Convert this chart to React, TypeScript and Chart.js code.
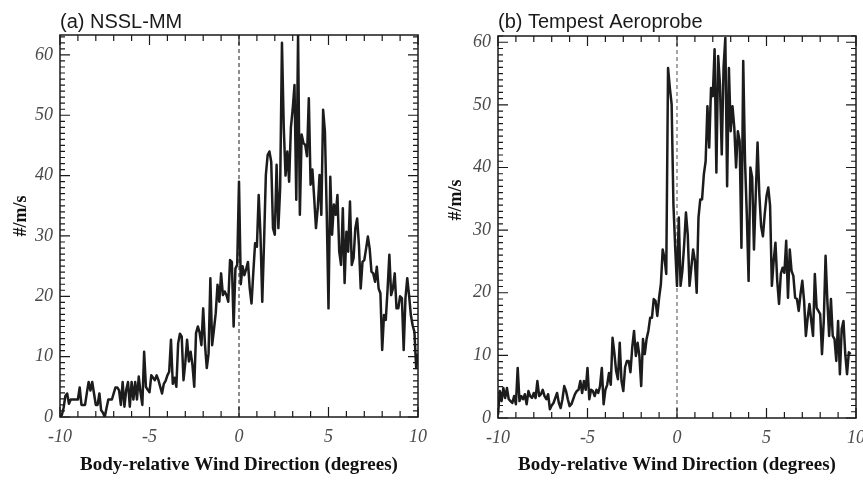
import React, { useEffect, useRef } from 'react';
import { Chart, registerables } from 'chart.js';

Chart.register(...registerables);

// x grid: bins of 0.1 degree from -10 to 10
const X_MIN = -10;
const X_STEP = 0.1;
const X_TICKS = [-10, -5, 0, 5, 10];
const Y_TICKS = [0, 10, 20, 30, 40, 50, 60];

// (a) NSSL-MM, #/m/s per 0.1 degree bin from -10.0 to 10.0
const NSSL_VALUES = [
  0, 0.3, 1.5, 3.5, 3.9, 2.2, 2.9, 2.9, 2.9, 2.9,
  2.9, 4.9, 2.0, 2.0, 2.0, 4.0, 5.8, 4.4, 5.8, 3.9,
  2.0, 2.0, 3.9, 1.1, 0.7, 0, 1.5, 2.9, 2.9, 2.9,
  3.9, 4.9, 4.9, 4.4, 2.0, 5.8, 1.7, 4.5, 5.8, 1.7,
  5.8, 2.9, 5.8, 2.9, 6.7, 4.0, 2.0, 10.8, 5.0, 4.5,
  4.1, 6.9, 6.5, 6.1, 6.9, 6.1, 5.0, 3.9, 5.5, 6.0,
  6.9, 7.5, 12.8, 5.5, 6.5, 5.0, 12.2, 13.8, 13.3, 6.1,
  9.0, 12.8, 9.2, 10.8, 8.6, 5.0, 13.9, 15.0, 14.0, 11.9,
  18.0, 12.0, 8.1, 10.5, 23.0, 11.9, 14.5, 17.2, 21.9, 19.1,
  23.8, 20.2, 20.8, 20.2, 19.1, 26.0, 25.7, 15.0, 24.6, 25.2,
  39.0, 22.0, 25.0, 23.5, 24.5, 25.7, 21.3, 18.8, 24.0, 28.8,
  28.2, 36.8, 30.2, 19.1, 29.0, 40.1, 43.4, 44.0, 42.3, 31.3,
  30.2, 41.8, 31.3, 38.0, 62.0, 48.0, 40.0, 44.0, 39.0, 48.0,
  51.0, 55.0, 36.0, 63.3, 33.5, 46.8, 45.4, 45.1, 43.2, 52.8,
  38.5, 41.0, 36.3, 31.3, 34.6, 40.1, 33.5, 50.9, 47.3, 34.0,
  18.0, 39.8, 30.2, 35.2, 33.5, 36.8, 27.4, 25.2, 34.6, 22.2,
  30.7, 27.4, 35.7, 25.2, 26.3, 31.3, 32.9, 28.5, 21.3, 25.7,
  26.0, 27.9, 29.9, 27.9, 24.1, 23.8, 22.4, 24.9, 21.3, 20.5,
  11.1, 16.9, 16.1, 21.1, 26.9, 20.2, 21.3, 23.8, 18.0, 18.0,
  20.0, 19.7, 11.1, 19.7, 23.0, 20.2, 16.9, 15.2, 14.1, 8.1,
  10.5,
];

// (b) Tempest Aeroprobe, #/m/s per 0.1 degree bin from -10.0 to 9.7
const TEMPEST_VALUES = [
  0.5, 4.3, 2.7, 4.8, 3.2, 4.8, 3.0, 2.7, 2.4, 3.5,
  2.2, 8.0, 2.7, 3.5, 3.0, 3.8, 2.2, 4.3, 3.5, 3.2,
  4.0, 3.2, 5.9, 3.5, 3.8, 4.5, 3.5, 3.0, 3.8, 1.4,
  2.0, 2.4, 3.2, 4.0, 2.4, 1.6, 3.0, 5.1, 4.3, 3.0,
  1.9, 2.2, 3.0, 3.8, 4.3, 4.5, 5.9, 4.0, 5.9, 4.5,
  8.0, 3.0, 4.5, 4.3, 3.5, 4.5, 4.0, 5.1, 8.0, 2.2,
  4.5, 5.3, 7.2, 5.3, 12.8, 10.4, 7.5, 6.2, 12.0, 5.9,
  4.3, 8.1, 9.1, 9.1, 7.3, 11.3, 13.9, 9.9, 12.0, 9.9,
  5.1, 12.6, 10.2, 12.6, 13.9, 16.0, 16.0, 19.0, 18.7, 16.3,
  19.2, 21.4, 26.9, 25.6, 23.0, 55.9, 52.7, 50.1, 34.1, 27.2,
  21.1, 32.0, 21.1, 23.5, 27.7, 32.8, 29.3, 21.1, 24.0, 26.9,
  25.1, 20.0, 32.0, 34.9, 34.9, 38.9, 41.0, 49.8, 43.2, 52.7,
  51.4, 58.9, 39.2, 57.8, 53.3, 42.1, 55.9, 60.7, 37.0, 55.9,
  45.8, 49.8, 46.4, 40.0, 45.8, 44.2, 27.2, 57.0, 41.0, 32.5,
  21.9, 40.0, 38.4, 26.9, 35.7, 44.0, 35.7, 30.6, 29.0, 32.5,
  35.4, 36.8, 33.9, 21.1, 25.1, 28.0, 21.9, 18.2, 23.0, 24.0,
  23.2, 28.3, 19.2, 26.9, 23.5, 22.7, 19.2, 19.0, 17.1, 19.8,
  21.9, 18.7, 13.1, 16.0, 18.2, 15.5, 13.1, 23.0, 17.6, 17.1,
  16.6, 10.2, 15.5, 25.9, 18.7, 13.1, 19.0, 13.1, 12.6, 9.1,
  15.5, 7.0, 14.2, 15.5, 10.2, 7.0, 10.5, 10.2,
];

const PANELS = [
  {
    title: '(a) NSSL-MM',
    values: NSSL_VALUES,
    yMax: 63.3,
    dashColor: '#1a1a1a',
    dashWidth: 1,
    left: 0,
    width: 440,
    padTop: 35,
    padRight: 22,
    yWidth: 60,
    xHeight: 63,
    yTitleX: 21,
    yTitleY: 216,
  },
  {
    title: '(b) Tempest Aeroprobe',
    values: TEMPEST_VALUES,
    yMax: 61,
    dashColor: '#808080',
    dashWidth: 1.4,
    left: 440,
    width: 440,
    padTop: 36,
    padRight: 24,
    yWidth: 58,
    xHeight: 62,
    yTitleX: 16,
    yTitleY: 200,
  },
];

const SERIF = '"Liberation Serif", "Times New Roman", serif';
const SANS = '"Liberation Sans", Arial, sans-serif';

function toPoints(vals: number[]) {
  return vals.map((v, i) => ({ x: Math.round((X_MIN + i * X_STEP) * 10) / 10, y: v }));
}

function makePlugin(p: any) {
  return {
    id: 'frameDecor',
    beforeDatasetsDraw(chart: any) {
      const { ctx, chartArea } = chart;
      const xs = chart.scales.x;
      const x0 = xs.getPixelForValue(0);
      ctx.save();
      ctx.strokeStyle = p.dashColor;
      ctx.lineWidth = p.dashWidth;
      ctx.setLineDash([4, 3]);
      ctx.beginPath();
      ctx.moveTo(x0, chartArea.top);
      ctx.lineTo(x0, chartArea.bottom);
      ctx.stroke();
      ctx.restore();
    },
    afterDraw(chart: any) {
      const { ctx, chartArea } = chart;
      const { left, right, top, bottom } = chartArea;
      const xs = chart.scales.x;
      const ys = chart.scales.y;
      ctx.save();
      ctx.strokeStyle = '#1a1a1a';
      ctx.lineWidth = 1.5;
      ctx.setLineDash([]);
      ctx.strokeRect(left, top, right - left, bottom - top);
      ctx.lineWidth = 1.2;
      ctx.beginPath();
      for (let v = -10; v <= 10; v++) {
        const px = xs.getPixelForValue(v);
        const len = v % 5 === 0 ? 10 : 6;
        ctx.moveTo(px, bottom);
        ctx.lineTo(px, bottom - len);
        ctx.moveTo(px, top);
        ctx.lineTo(px, top + len);
      }
      for (let v = 0; v <= Math.floor(p.yMax); v++) {
        const py = ys.getPixelForValue(v);
        const len = v % 10 === 0 ? 10 : 5;
        ctx.moveTo(left, py);
        ctx.lineTo(left + len, py);
        ctx.moveTo(right, py);
        ctx.lineTo(right - len, py);
      }
      ctx.stroke();

      // panel title
      ctx.fillStyle = '#1a1a1a';
      ctx.font = `20px ${SANS}`;
      ctx.textAlign = 'left';
      ctx.textBaseline = 'alphabetic';
      ctx.fillText(p.title, left, 28);

      // y axis title
      ctx.translate(p.yTitleX, p.yTitleY);
      ctx.rotate(-Math.PI / 2);
      ctx.font = `bold 18px ${SERIF}`;
      ctx.textAlign = 'center';
      ctx.textBaseline = 'middle';
      ctx.fillStyle = '#111';
      ctx.fillText('#/m/s', 0, 0);
      ctx.restore();
    },
  };
}

function makeConfig(p: any): any {
  const tickFont = { family: SERIF, size: 18, style: 'italic' as const };
  return {
    type: 'line',
    data: {
      datasets: [
        {
          data: toPoints(p.values),
          borderColor: '#1c1c1c',
          borderWidth: 2.5,
          pointRadius: 0,
          tension: 0,
          borderJoinStyle: 'round',
          fill: false,
        },
      ],
    },
    options: {
      responsive: false,
      animation: false,
      devicePixelRatio: 1,
      layout: { padding: { left: 0, top: p.padTop, right: p.padRight, bottom: 0 } },
      plugins: { legend: { display: false }, tooltip: { enabled: false }, title: { display: false } },
      scales: {
        x: {
          type: 'linear',
          min: -10,
          max: 10,
          afterBuildTicks: (s: any) => {
            s.ticks = X_TICKS.map((v) => ({ value: v }));
          },
          afterFit: (s: any) => {
            s.height = p.xHeight;
          },
          grid: { display: false, drawTicks: false },
          border: { display: false },
          ticks: {
            font: tickFont,
            color: '#4a4a4a',
            padding: 9,
            maxRotation: 0,
            autoSkip: false,
            callback: (v: any) => String(v),
          },
          title: {
            display: true,
            text: 'Body-relative Wind Direction (degrees)',
            font: { family: SERIF, size: 19, weight: 'bold' },
            color: '#111',
            padding: { top: 0, bottom: 4 },
          },
        },
        y: {
          type: 'linear',
          min: 0,
          max: p.yMax,
          afterBuildTicks: (s: any) => {
            s.ticks = Y_TICKS.map((v) => ({ value: v }));
          },
          afterFit: (s: any) => {
            s.width = p.yWidth;
          },
          grid: { display: false, drawTicks: false },
          border: { display: false },
          ticks: {
            font: tickFont,
            color: '#4a4a4a',
            padding: 7,
            callback: (v: any) => String(v),
          },
        },
      },
    },
    plugins: [makePlugin(p)],
  };
}

export default function App() {
  const refA = useRef<HTMLCanvasElement | null>(null);
  const refB = useRef<HTMLCanvasElement | null>(null);

  useEffect(() => {
    const charts: Chart[] = [];
    [refA.current, refB.current].forEach((c, i) => {
      if (c) charts.push(new Chart(c, makeConfig(PANELS[i])));
    });
    return () => charts.forEach((ch) => ch.destroy());
  }, []);

  return (
    <div
      style={{
        position: 'fixed',
        left: 0,
        top: 0,
        width: 863,
        height: 480,
        overflow: 'hidden',
        background: '#ffffff',
      }}
    >
      {PANELS.map((p, i) => (
        <canvas
          key={i}
          ref={i === 0 ? refA : refB}
          width={p.width}
          height={480}
          style={{ position: 'absolute', left: p.left, top: 0, width: p.width, height: 480 }}
        />
      ))}
    </div>
  );
}
